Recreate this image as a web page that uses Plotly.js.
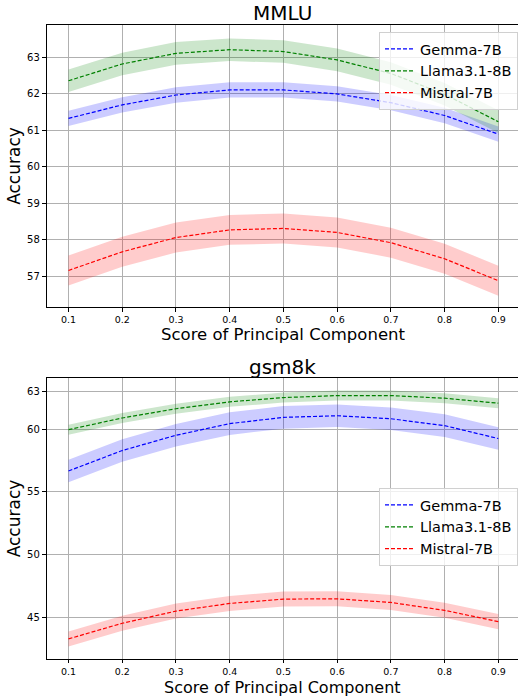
<!DOCTYPE html>
<html>
<head>
<meta charset="utf-8">
<script src="https://cdn.plot.ly/plotly-3.0.1.min.js"></script>
<style>html,body{margin:0;padding:0;background:#fff}#plot{width:518px;height:697px}</style>
</head>
<body>
<div id="plot"></div>
<script>
const xs = [0.1,0.2,0.3,0.4,0.5,0.6,0.7,0.8,0.9];
const seriesNames = ["Gemma-7B","Llama3.1-8B","Mistral-7B"];
const lineColors = ["#0000ff","#008000","#ff0000"];
const fillColors = ["rgba(0,0,255,0.2)","rgba(0,128,0,0.2)","rgba(255,0,0,0.2)"];

// MMLU
const mmluGemma   = [61.32,61.69,61.96,62.10,62.10,61.99,61.75,61.40,60.89];
const mmluLlama   = [62.35,62.81,63.10,63.20,63.15,62.92,62.55,61.98,61.23];
const mmluMistral = [57.16,57.67,58.06,58.27,58.31,58.20,57.92,57.48,56.88];
const mmluGemmaErr   = [0.21,0.21,0.21,0.21,0.21,0.21,0.21,0.21,0.21];
const mmluLlamaErr   = [0.31,0.31,0.31,0.31,0.31,0.31,0.31,0.31,0.31];
const mmluMistralErr = [0.41,0.41,0.41,0.41,0.41,0.41,0.41,0.41,0.41];

// gsm8k
const gsmGemma   = [56.66,58.29,59.51,60.44,60.94,61.07,60.83,60.28,59.25];
const gsmLlama   = [59.96,60.89,61.63,62.18,62.52,62.68,62.68,62.47,62.07];
const gsmMistral = [43.25,44.50,45.47,46.08,46.43,46.45,46.16,45.53,44.63];
const gsmGemmaErr   = [0.9,0.9,0.9,0.9,0.9,0.9,0.9,0.9,0.9];
const gsmLlamaErr   = [0.4,0.4,0.4,0.4,0.4,0.4,0.4,0.4,0.4];
const gsmMistralErr = [0.6,0.6,0.6,0.6,0.6,0.6,0.6,0.6,0.6];

const xTickVals = [0.1,0.2,0.3,0.4,0.5,0.6,0.7,0.8,0.9];
const xTickText = ["0.1","0.2","0.3","0.4","0.5","0.6","0.7","0.8","0.9"];
const mmluTicks = [57,58,59,60,61,62,63];
const gsmTicks = [45,50,55,60,63];
const xTitle = 'Score of Principal Component';
const yTitle = 'Accuracy';
const panelTitles = ['MMLU','gsm8k'];

const panels = [
  {means:[mmluGemma,mmluLlama,mmluMistral], errs:[mmluGemmaErr,mmluLlamaErr,mmluMistralErr], xa:'x', ya:'y', legend:'legend'},
  {means:[gsmGemma,gsmLlama,gsmMistral], errs:[gsmGemmaErr,gsmLlamaErr,gsmMistralErr], xa:'x2', ya:'y2', legend:'legend2'}
];

const traces = [];
panels.forEach(p => {
  p.means.forEach((m, i) => {
    const e = p.errs[i];
    const upper = m.map((v,k)=>v+e[k]);
    const lower = m.map((v,k)=>v-e[k]);
    traces.push({x: xs.concat(xs.slice().reverse()), y: upper.concat(lower.slice().reverse()),
      fill:'toself', fillcolor: fillColors[i], line:{width:0}, mode:'lines',
      hoverinfo:'skip', showlegend:false, xaxis:p.xa, yaxis:p.ya});
  });
  p.means.forEach((m, i) => {
    traces.push({x: xs, y: m, mode:'lines', name: seriesNames[i],
      line:{color: lineColors[i], width:1.2, dash:'4px,2px'},
      xaxis:p.xa, yaxis:p.ya, legend:p.legend});
  });
});

const font = {family:'DejaVu Sans, sans-serif', color:'#000'};
const gridc = '#b0b0b0';
function xaxis(anchor){
  return {domain:[47/518,1], range:[0.06,0.9366], anchor:anchor,
    tickvals:xTickVals, ticktext:xTickText, ticks:'outside', ticklen:3.5, tickcolor:'#000',
    showline:true, linecolor:'#000', linewidth:1.2, mirror:true,
    showgrid:true, gridcolor:gridc, gridwidth:1, zeroline:false,
    tickfont:{family:font.family, size:9.5, color:'#000'}};
}
function yaxis(anchor, domain, range, ticks){
  return {domain:domain, range:range, anchor:anchor,
    tickvals:ticks, ticks:'outside', ticklen:4, tickcolor:'#000',
    showline:true, linecolor:'#000', linewidth:1.2, mirror:false,
    showgrid:true, gridcolor:gridc, gridwidth:1, zeroline:false,
    tickfont:{family:font.family, size:10, color:'#000'},
    title:{text:yTitle, font:{family:font.family, size:17, color:'#000'}, standoff:2}};
}
const legendStyle = (y) => ({x:379/518, y:y, xanchor:'left', yanchor:'top',
  bgcolor:'rgba(255,255,255,0.8)', bordercolor:'#d0d0d0', borderwidth:1,
  font:{family:font.family, size:14.5, color:'#000'}, itemwidth:30, tracegroupgap:0});

const cx = 0.5*(47/518+1);
const ann = (text, yPx, size) => ({text:text, x:cx, y:1-yPx/697, xref:'paper', yref:'paper',
  showarrow:false, font:{family:font.family,size:size,color:'#000'}, xanchor:'center', yanchor:'middle', borderpad:0});

const layout = {
  width:518, height:697, margin:{l:0,r:0,t:0,b:0}, paper_bgcolor:'#fff', plot_bgcolor:'#fff',
  font:font, showlegend:true,
  xaxis: xaxis('y'),
  yaxis: yaxis('x', [390/697, 672/697], [56.16,63.876], mmluTicks),
  xaxis2: xaxis('y2'),
  yaxis2: yaxis('x2', [38.3/697, 318.7/697], [41.67,64.06], gsmTicks),
  legend: legendStyle(1-32/697),
  legend2: legendStyle(1-488/697),
  annotations:[
    ann(panelTitles[0], 13, 20),
    ann(panelTitles[1], 367, 20),
    ann(xTitle, 334, 16.5),
    ann(xTitle, 687, 16)
  ]
};
Plotly.newPlot('plot', traces, layout, {displayModeBar:false, staticPlot:true});
</script>
</body>
</html>
